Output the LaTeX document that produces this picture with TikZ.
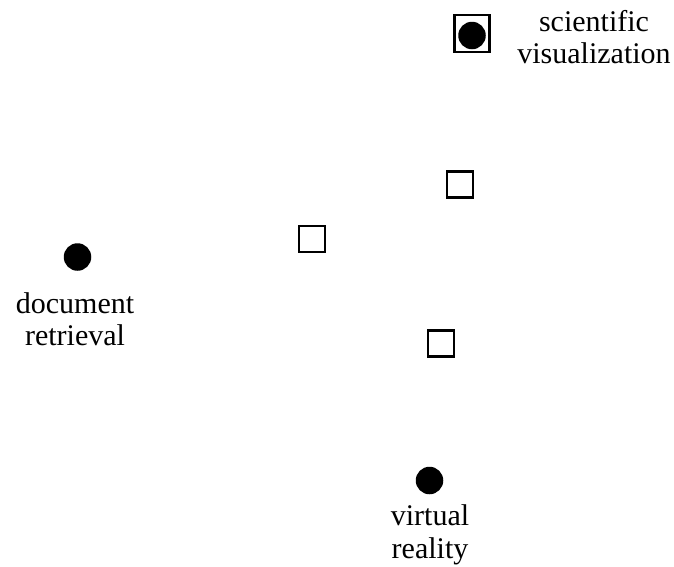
\documentclass[tikz,border=0pt]{standalone}
\usepackage{fontspec}
\setmainfont{Liberation Serif}
\begin{document}
\begin{tikzpicture}[x=1pt,y=-1pt,
  dot/.style={circle,fill=black,draw=none,minimum size=27.5pt,inner sep=0pt},
  box/.style={rectangle,draw=black,line width=2.2pt,minimum size=26pt,inner sep=0pt},
  framebox/.style={rectangle,draw=black,line width=2.2pt,minimum width=35pt,minimum height=36.5pt,inner sep=0pt},
  label text/.style={align=center,font=\fontsize{30}{32.5}\selectfont,inner sep=0pt}]
  \useasboundingbox (0,0) rectangle (674,566);
  % topics
  \node[framebox] (sciframe) at (472,33.5) {};
  \node[dot] (sci) at (472,35.5) {};
  \node[dot] (doc) at (77.5,257) {};
  \node[dot] (vr) at (429.5,480.5) {};
  % unlabelled squares
  \node[box] (b1) at (312,239) {};
  \node[box] (b2) at (460,184.5) {};
  \node[box] (b3) at (441,343.5) {};
  % labels
  \node[label text] (scilabel) at (594,37) {scientific\\visualization};
  \node[label text] (doclabel) at (75,319) {document\\retrieval};
  \node[label text] (vrlabel) at (430,535) {virtual\\reality};
\end{tikzpicture}
\end{document}
